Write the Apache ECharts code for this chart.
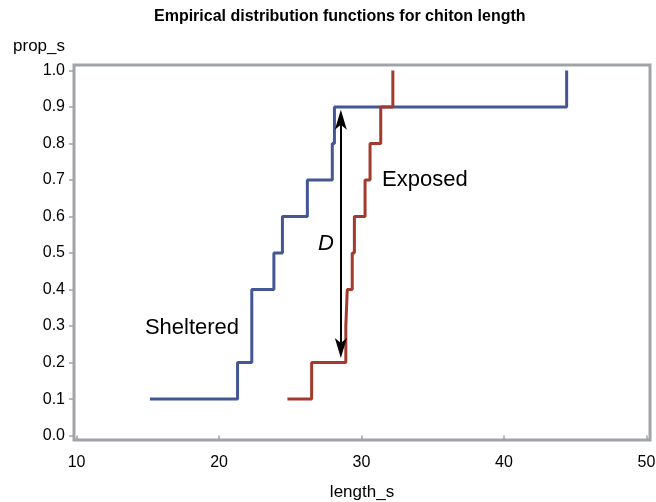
<!DOCTYPE html>
<html>
<head>
<meta charset="utf-8">
<script src="https://cdn.jsdelivr.net/npm/echarts@6/dist/echarts.min.js"></script>
<style>
html,body{margin:0;padding:0;background:#fff;}
#main{width:656px;height:502px;}
</style>
</head>
<body>
<div id="main"></div>
<script>
// empirical cdf steps
var shelteredX=[15.15,21.3,22.3,23.85,24.45,26.2,27.95,28.1,44.4];
var shelteredY=[0.1,0.2,0.4,0.5,0.6,0.7,0.8,0.9,1.0];
var exposedX=[24.8,26.5,28.9,29.0,29.35,29.5,30.25,30.6,31.35,32.2];
var exposedY=[0.1,0.2,0.3,0.4,0.5,0.6,0.7,0.8,0.9,1.0];
var xTicks=[10,20,30,40,50];
var yTicks=[0,0.1,0.2,0.3,0.4,0.5,0.6,0.7,0.8,0.9,1.0];
// D arrow (x, from, to) and text labels
var arrowD=[28.55,0.24,0.865];
var labels=[
	{name:'Sheltered',x:18.1,y:0.296},
	{name:'Exposed',x:34.45,y:0.699},
	{name:'D',x:27.5,y:0.526}
];

function pairs(xs,ys){
	var out=[];
	for(var i=0;i<xs.length;i++){
		out.push([xs[i],ys[i]]);
	}
	return out;
}

var font='"Liberation Sans", Arial, sans-serif';
var gray='#a0a4a8';
var arrowPath='path://M0,0 L6,20 L0,15 L-6,20 Z';

var chart=echarts.init(document.getElementById('main'));
var option={
	animation:false,
	textStyle:{fontFamily:font},
	title:{
		text:'Empirical distribution functions for chiton length',
		left:149,
		top:4,
		textStyle:{fontSize:16,fontWeight:'bold',color:'#000',fontFamily:font}
	},
	grid:{
		left:74,right:6,top:65,bottom:62,
		outerBoundsMode:'none',
		containLabel:false,
		show:true,
		borderColor:gray,
		borderWidth:3,
		backgroundColor:'#fff'
	},
	xAxis:{
		type:'value',
		min:9.82,max:50.25,
		name:'length_s',
		nameLocation:'middle',
		nameGap:44,
		nameTextStyle:{fontSize:17,color:'#000'},
		axisLine:{show:false},
		splitLine:{show:false},
		axisTick:{show:true,customValues:xTicks,length:5,lineStyle:{color:gray,width:1.5}},
		axisLabel:{customValues:xTicks,fontSize:16,color:'#000',margin:15}
	},
	yAxis:{
		type:'value',
		min:-0.012,max:1.015,
		name:'prop_s',
		nameLocation:'end',
		nameGap:10,
		nameTextStyle:{fontSize:17,color:'#000',align:'right',padding:[0,9,0,0]},
		axisLine:{show:false},
		splitLine:{show:false},
		axisTick:{show:true,customValues:yTicks,length:5,lineStyle:{color:gray,width:1.5}},
		axisLabel:{
			customValues:yTicks,fontSize:16,color:'#000',margin:9,
			formatter:function(v){return v.toFixed(1);}
		}
	},
	series:[
		{
			name:'Sheltered',
			type:'line',
			step:'end',
			showSymbol:false,
			data:pairs(shelteredX,shelteredY),
			lineStyle:{color:'#445694',width:3},
			itemStyle:{color:'#445694'}
		},
		{
			name:'Exposed',
			type:'line',
			step:'end',
			showSymbol:false,
			data:pairs(exposedX,exposedY),
			lineStyle:{color:'#A23A2E',width:3},
			itemStyle:{color:'#A23A2E'}
		},
		{
			name:'notes',
			type:'scatter',
			symbolSize:0,
			itemStyle:{opacity:1},
			data:labels.map(function(l){
				return {
					name:l.name,
					value:[l.x,l.y],
					label:{fontStyle:l.name=='D'?'italic':'normal'}
				};
			}),
			label:{
				show:true,
				position:'inside',
				formatter:'{b}',
				fontSize:22,
				color:'#000'
			},
			markLine:{
				silent:true,
				symbol:[arrowPath,arrowPath],
				symbolSize:20,
				symbolKeepAspect:true,
				label:{show:false},
				lineStyle:{color:'#000',width:2,type:'solid'},
				data:[[{coord:[arrowD[0],arrowD[1]]},{coord:[arrowD[0],arrowD[2]]}]]
			}
		}
	]
};
chart.setOption(option);
</script>
</body>
</html>
